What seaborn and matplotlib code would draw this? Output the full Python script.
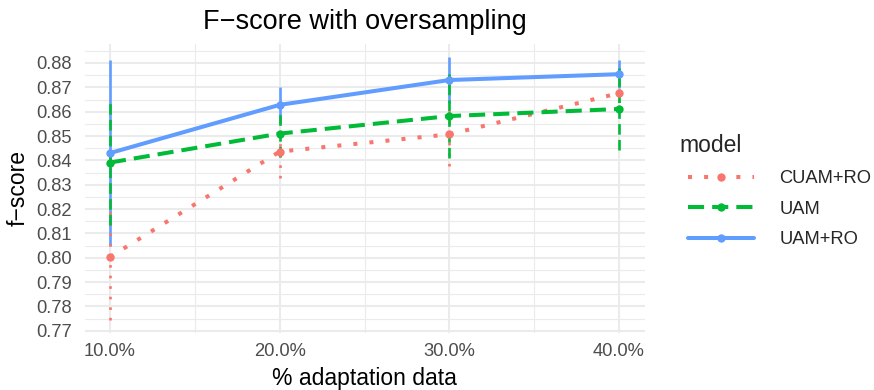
import numpy as np
import pandas as pd
import matplotlib
matplotlib.use("Agg")
import matplotlib.pyplot as plt
import seaborn as sns
from matplotlib.lines import Line2D
from matplotlib.ticker import FixedLocator, FuncFormatter

# ---- data ----
adaptation = [0.10, 0.20, 0.30, 0.40]
models = ["CUAM+RO", "UAM", "UAM+RO"]
fscore_cuam_ro = [0.8003, 0.8436, 0.8507, 0.8676]
err_cuam_ro = [0.0258, 0.0108, 0.0130, 0.0035]
fscore_uam = [0.8391, 0.8510, 0.8582, 0.8611]
err_uam = [0.0257, 0.0095, 0.0173, 0.0168]
fscore_uam_ro = [0.8430, 0.8628, 0.8730, 0.8754]
err_uam_ro = [0.0381, 0.0075, 0.0094, 0.0058]
y_ticks = [0.77, 0.78, 0.79, 0.80, 0.81, 0.82, 0.83, 0.84, 0.85, 0.86, 0.87, 0.88]
x_ticks = [0.10, 0.20, 0.30, 0.40]

colors = {"CUAM+RO": "#F8766D", "UAM": "#00BA38", "UAM+RO": "#619CFF"}
dash_styles = {"CUAM+RO": (1, 3), "UAM": (4, 2), "UAM+RO": ""}

df = pd.DataFrame({
    "adaptation": adaptation * 3,
    "fscore": fscore_cuam_ro + fscore_uam + fscore_uam_ro,
    "err": err_cuam_ro + err_uam + err_uam_ro,
    "model": [m for m in models for _ in adaptation],
})

sns.set_theme(style="white")
plt.rcParams["font.family"] = ["Liberation Sans", "DejaVu Sans"]

fig = plt.figure(figsize=(8.74, 3.9), dpi=100)
W, H = 874, 390
left, right, top, bottom = 84.5, 644.5, 43.5, 333
ax = fig.add_axes([left / W, 1 - bottom / H, (right - left) / W, (bottom - top) / H])

lw = 2.9
ms = 6
# error bars (drawn first, beneath lines)
err_z = {"UAM+RO": 2.0, "CUAM+RO": 2.1, "UAM": 2.2}
for m in models:
    d = df[df.model == m]
    ls = "-" if dash_styles[m] == "" else (0, dash_styles[m])
    ax.vlines(d.adaptation, d.fscore - d.err, d.fscore + d.err,
              colors=colors[m], linewidth=1.9, linestyles=[ls], zorder=err_z[m],
              capstyle="butt")

sns.lineplot(data=df, x="adaptation", y="fscore", hue="model", style="model",
             palette=colors, dashes=dash_styles, markers=["o", "o", "o"],
             markersize=ms, markeredgewidth=0, linewidth=lw, ax=ax,
             legend=False, zorder=3)
for line in ax.lines:
    line.set_dash_capstyle("butt")

ax.set_xlim(0.085, 0.415)
ax.set_ylim(0.7691, 0.888)

ax.xaxis.set_major_locator(FixedLocator(x_ticks))
ax.xaxis.set_minor_locator(FixedLocator([0.15, 0.25, 0.35]))
ax.yaxis.set_major_locator(FixedLocator(y_ticks))
ax.yaxis.set_minor_locator(FixedLocator([0.765 + 0.01 * i for i in range(13)]))
ax.xaxis.set_major_formatter(FuncFormatter(lambda v, p: f"{v*100:.1f}%"))
ax.yaxis.set_major_formatter(FuncFormatter(lambda v, p: f"{v:.2f}"))

ax.grid(which="major", color="#EBEBEB", linewidth=1.5)
ax.grid(which="minor", color="#EBEBEB", linewidth=0.8)
ax.set_axisbelow(True)
for s in ax.spines.values():
    s.set_visible(False)
ax.tick_params(which="both", length=0)
ax.tick_params(axis="y", labelsize=13.2, labelcolor="#4D4D4D", pad=9)
ax.tick_params(axis="x", labelsize=13.2, labelcolor="#4D4D4D", pad=7)

ax.set_xlabel("% adaptation data", fontsize=16.5, color="black", va="center")
ax.set_ylabel("f\u2212score", fontsize=16.5, color="black", va="center")
ax.xaxis.set_label_coords(0.5, -(378 - bottom) / (bottom - top))
ax.yaxis.set_label_coords(-(left - 18) / (right - left), 0.5)

fig.text((left + right) / 2 / W, 1 - 22 / H, "F\u2212score with oversampling",
         ha="center", va="center", fontsize=19.5, color="black")

handles = []
for m in models:
    ls = "-" if dash_styles[m] == "" else (0, dash_styles[m])
    h = Line2D([0], [0], color=colors[m], linewidth=lw, linestyle=ls,
               marker="o", markersize=ms, markeredgewidth=0,
               dash_capstyle="butt")
    handles.append(h)
leg = fig.legend(handles, models, title="model", loc="upper left",
                 bbox_to_anchor=(671 / W, 1 - 117 / H), frameon=False,
                 fontsize=13.2, title_fontsize=16.5, handlelength=3.6,
                 handletextpad=1.4, labelspacing=0.74, numpoints=1,
                 alignment="left")
leg.get_title().set_position((-8, 0))

fig.savefig("out.png", dpi=100)
